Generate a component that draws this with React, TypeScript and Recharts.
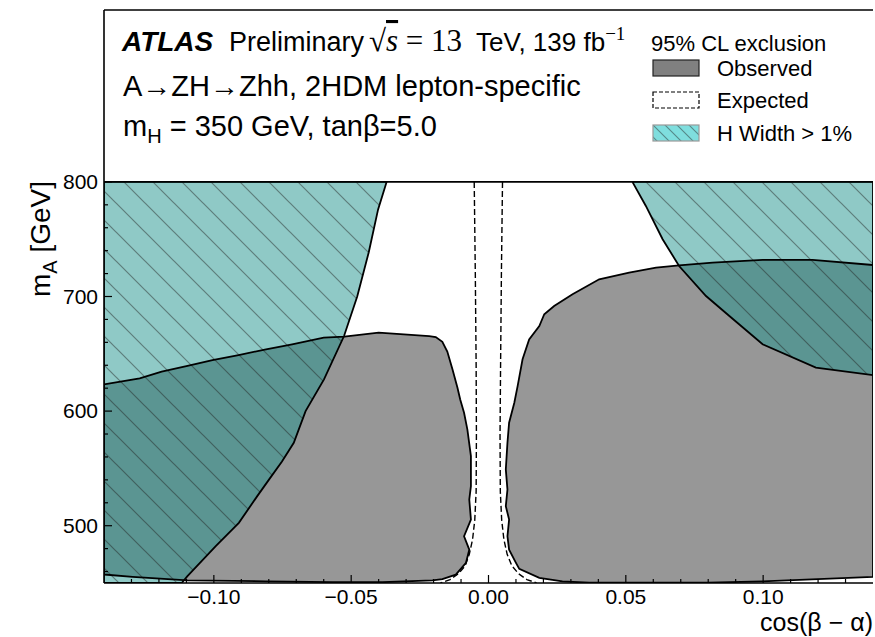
import React from 'react'
import { ComposedChart, Scatter, XAxis, YAxis, ReferenceLine } from 'recharts'

// contours as [cos(beta-alpha), mA in GeV]
const observedLeft = [
  [-0.14, 457.4], [-0.14, 623.3], [-0.134, 625.7], [-0.127, 628.5], [-0.119, 634.4],
  [-0.11, 639.3], [-0.1005, 644.5], [-0.091, 648.9], [-0.081, 653.9], [-0.0715, 658.3],
  [-0.06, 664.1], [-0.0525, 665.0], [-0.04, 668.5], [-0.0216, 665.5], [-0.0192, 664.6],
  [-0.0168, 660.5], [-0.015, 652.0], [-0.0131, 636.4], [-0.0113, 620.4], [-0.0103, 610.2],
  [-0.0089, 598.6], [-0.0077, 584.0], [-0.0064, 560.7], [-0.0064, 534.5], [-0.007, 522.9],
  [-0.0064, 505.4], [-0.0089, 490.8], [-0.007, 479.1], [-0.0082, 467.6], [-0.0119, 457.3],
  [-0.0168, 453.3], [-0.0204, 452.3], [-0.0386, 450.7], [-0.0568, 450.7], [-0.0811, 451.5],
  [-0.1096, 452.3], [-0.1296, 455.4], [-0.14, 457.4],
]

const observedRight = [
  [0.14, 727.5], [0.118, 731.9], [0.0998, 731.9], [0.0816, 729.6], [0.0694, 727.2],
  [0.061, 725.2], [0.0512, 720.9], [0.0403, 715.0], [0.0306, 701.9], [0.0239, 691.7],
  [0.0203, 684.5], [0.0185, 674.2], [0.0148, 662.6], [0.0124, 645.2], [0.0106, 621.8],
  [0.0094, 607.3], [0.0075, 589.9], [0.0069, 572.4], [0.0063, 549.1], [0.0069, 531.6],
  [0.0063, 517.0], [0.0075, 505.4], [0.0069, 490.8], [0.0075, 479.1], [0.01, 467.6],
  [0.0112, 462.3], [0.0185, 454.5], [0.0269, 451.5], [0.0367, 450.2], [0.08, 450.2],
  [0.0998, 451.5], [0.14, 455.4], [0.14, 727.5],
]

// H width > 1% regions
const widthLeft = [
  [-0.14, 800], [-0.0371, 800], [-0.0402, 776], [-0.0436, 738.6], [-0.0478, 700],
  [-0.0526, 665.5], [-0.0599, 627.7], [-0.0666, 600], [-0.0709, 572.3], [-0.0752, 556],
  [-0.08, 540], [-0.0842, 525.8], [-0.0909, 502.5], [-0.0994, 482], [-0.1097, 455.8],
  [-0.1117, 450], [-0.14, 450], [-0.14, 800],
]

const widthRight = [
  [0.0524, 800], [0.0573, 779], [0.0634, 750], [0.0694, 726.6], [0.0792, 700.4],
  [0.0877, 683], [0.0998, 658.3], [0.1192, 637.9], [0.14, 631.4], [0.14, 800], [0.0524, 800],
]

const expectedLeft = [
  [-0.0052, 800], [-0.0048, 720], [-0.0045, 640], [-0.0044, 580], [-0.0045, 530],
  [-0.005, 505], [-0.0058, 488], [-0.007, 475], [-0.0085, 465], [-0.011, 458],
  [-0.014, 453], [-0.0175, 450],
]

const expectedRight = [
  [0.0051, 800], [0.0047, 720], [0.0044, 640], [0.0042, 580], [0.0043, 530],
  [0.0048, 505], [0.0056, 488], [0.0068, 475], [0.0085, 465], [0.011, 458],
  [0.014, 453], [0.0175, 450],
]

const xMajor = [-0.1, -0.05, 0, 0.05, 0.1]
const xMajorLabels = ['−0.10', '−0.05', '0.00', '0.05', '0.10']
const xTicks = [
  -0.13, -0.12, -0.11, -0.1, -0.09, -0.08, -0.07, -0.06, -0.05, -0.04, -0.03, -0.02, -0.01,
  0, 0.01, 0.02, 0.03, 0.04, 0.05, 0.06, 0.07, 0.08, 0.09, 0.1, 0.11, 0.12, 0.13,
]
const yMajor = [500, 600, 700, 800]
const yMajorLabels = ['500', '600', '700', '800']
const yTicks = [
  460, 480, 500, 520, 540, 560, 580, 600, 620, 640, 660, 680, 700, 720, 740, 760, 780, 800,
]

const FONT = '"Liberation Sans", Arial, Helvetica, sans-serif'
const SERIF = '"Liberation Serif", "Times New Roman", serif'
const GRAY = '#979797'
const CYAN = 'rgba(31,147,141,0.5)'

const pts = (arr: number[][]) => arr.map(([x, y]) => ({ x, y }))
const majorIdx = (list: number[], v: number) => list.findIndex((m) => Math.abs(m - v) < 1e-9)
const noMarker = () => <g />

function BottomTick(props: any) {
  const { x, y, payload } = props
  const i = majorIdx(xMajor, payload.value)
  return (
    <g>
      <line x1={x} x2={x} y1={y} y2={y - (i >= 0 ? 8 : 4)} stroke="#000" strokeWidth={1.2} />
      {i >= 0 && (
        <text x={x} y={y + 21} textAnchor="middle" fontSize={21} fontFamily={FONT} fill="#000">
          {xMajorLabels[i]}
        </text>
      )}
    </g>
  )
}

function LeftTick(props: any) {
  const { x, y, payload } = props
  const i = majorIdx(yMajor, payload.value)
  return (
    <g>
      <line x1={x} x2={x + (i >= 0 ? 8 : 4)} y1={y} y2={y} stroke="#000" strokeWidth={1.2} />
      {i >= 0 && (
        <text x={x - 6} y={y + 7} textAnchor="end" fontSize={21} fontFamily={FONT} fill="#000">
          {yMajorLabels[i]}
        </text>
      )}
    </g>
  )
}

function RightTick(props: any) {
  const { x, y, payload } = props
  const i = majorIdx(yMajor, payload.value)
  return <line x1={x} x2={x - (i >= 0 ? 8 : 4)} y1={y} y2={y} stroke="#000" strokeWidth={1.2} />
}

const polygon = (key: string, data: number[][], line: object) => (
  <Scatter
    key={key}
    data={pts(data)}
    line={line}
    lineType="joint"
    lineJointType="linear"
    shape={noMarker}
    isAnimationActive={false}
    legendType="none"
  />
)

const outline = { fill: 'none', stroke: '#000', strokeWidth: 1.8 }
const dashed = { fill: 'none', stroke: '#000', strokeWidth: 1.4, strokeDasharray: '6 3' }

function Header() {
  return (
    <g fontFamily={FONT} fill="#000">
      <text x={122} y={51} fontSize={28} fontWeight="bold" fontStyle="italic">ATLAS</text>
      <text x={229} y={51} fontSize={27}>Preliminary</text>
      <text x={369} y={51} fontSize={31} fontFamily={SERIF} style={{ whiteSpace: 'pre' }}>
        √<tspan fontStyle="italic" textDecoration="overline">s</tspan> = 13
      </text>
      <text x={476} y={51} fontSize={26} style={{ whiteSpace: 'pre' }}>
        TeV, 139 fb<tspan dy={-11} fontSize={19} fontFamily={SERIF}>−1</tspan>
      </text>
      <text x={123} y={96} fontSize={29}>A→ZH→Zhh, 2HDM lepton-specific</text>
      <text x={123} y={136} fontSize={29} style={{ whiteSpace: 'pre' }}>
        m<tspan dy={7} fontSize={20}>H</tspan>
        <tspan dy={-7}> = 350 GeV, tanβ=5.0</tspan>
      </text>

      <text x={651} y={51} fontSize={22}>95% CL exclusion</text>
      <rect x={653} y={60} width={46} height={16} fill="#808080" stroke="#222" strokeWidth={1.2} />
      <text x={717} y={76} fontSize={22}>Observed</text>
      <rect x={653} y={92} width={46} height={16} fill="#fff" stroke="#000" strokeWidth={1.2} strokeDasharray="4 2" />
      <text x={717} y={108} fontSize={22}>Expected</text>
      <rect x={653} y={125} width={46} height={16} fill="#7fdede" />
      <rect x={653} y={125} width={46} height={16} fill="url(#hatchSmall)" stroke="#999" strokeWidth={1.2} />
      <text x={717} y={141} fontSize={22}>H Width &gt; 1%</text>

      <text x={50} y={181} fontSize={28} textAnchor="end" transform="rotate(-90 50 181)" style={{ whiteSpace: 'pre' }}>
        m<tspan dy={7} fontSize={20}>A</tspan>
        <tspan dy={-7}> [GeV]</tspan>
      </text>
      <text x={873} y={631} fontSize={25} textAnchor="end" style={{ whiteSpace: 'pre' }}>
        cos(β − α)
      </text>
    </g>
  )
}

export default function App() {
  return (
    <div style={{ position: 'absolute', left: 0, top: 0, width: 875, height: 637, background: '#fff' }}>
      <ComposedChart width={875} height={637} margin={{ top: 10, right: 2, bottom: 0, left: 0 }}>
        <defs>
          <pattern id="hatch" patternUnits="userSpaceOnUse" width={29} height={29}>
            <path d="M0,0 L29,29 M-4,25 L4,33 M25,-4 L33,4" stroke="rgba(30,30,30,0.45)" strokeWidth={1.2} />
          </pattern>
          <pattern id="hatchSmall" patternUnits="userSpaceOnUse" width={12} height={12}>
            <path d="M0,0 L12,12 M-3,9 L3,15 M9,-3 L15,3" stroke="rgba(30,30,30,0.45)" strokeWidth={1.1} />
          </pattern>
        </defs>

        <XAxis
          type="number"
          dataKey="x"
          domain={[-0.14, 0.14]}
          allowDataOverflow
          ticks={xTicks}
          interval={0}
          height={54}
          tickSize={0}
          tickMargin={0}
          tickLine={false}
          tick={BottomTick}
          axisLine={{ stroke: '#000', strokeWidth: 1.6 }}
        />
        <YAxis
          type="number"
          dataKey="y"
          domain={[450, 950]}
          allowDataOverflow
          ticks={yTicks}
          interval={0}
          width={104}
          tickSize={0}
          tickMargin={0}
          tickLine={false}
          tick={LeftTick}
          axisLine={{ stroke: '#000', strokeWidth: 1.6 }}
        />
        <YAxis
          yAxisId="right"
          orientation="right"
          type="number"
          domain={[450, 950]}
          allowDataOverflow
          ticks={yTicks}
          interval={0}
          width={0}
          tickSize={0}
          tickMargin={0}
          tickLine={false}
          tick={RightTick}
          axisLine={{ stroke: '#000', strokeWidth: 1.6 }}
        />

        {polygon('obs-l-fill', observedLeft, { fill: GRAY, stroke: 'none' })}
        {polygon('obs-r-fill', observedRight, { fill: GRAY, stroke: 'none' })}
        {polygon('w-l-fill', widthLeft, { fill: CYAN, stroke: 'none' })}
        {polygon('w-r-fill', widthRight, { fill: CYAN, stroke: 'none' })}
        {polygon('w-l-hatch', widthLeft, { fill: 'url(#hatch)', stroke: 'none' })}
        {polygon('w-r-hatch', widthRight, { fill: 'url(#hatch)', stroke: 'none' })}
        {polygon('obs-l-line', observedLeft, outline)}
        {polygon('obs-r-line', observedRight, outline)}
        {polygon('w-l-line', widthLeft, outline)}
        {polygon('w-r-line', widthRight, outline)}
        {polygon('exp-l', expectedLeft, dashed)}
        {polygon('exp-r', expectedRight, dashed)}

        <ReferenceLine y={800} stroke="#000" strokeWidth={1.8} />
        <ReferenceLine y={950} stroke="#000" strokeWidth={1.6} />

        <Header />
      </ComposedChart>
    </div>
  )
}
